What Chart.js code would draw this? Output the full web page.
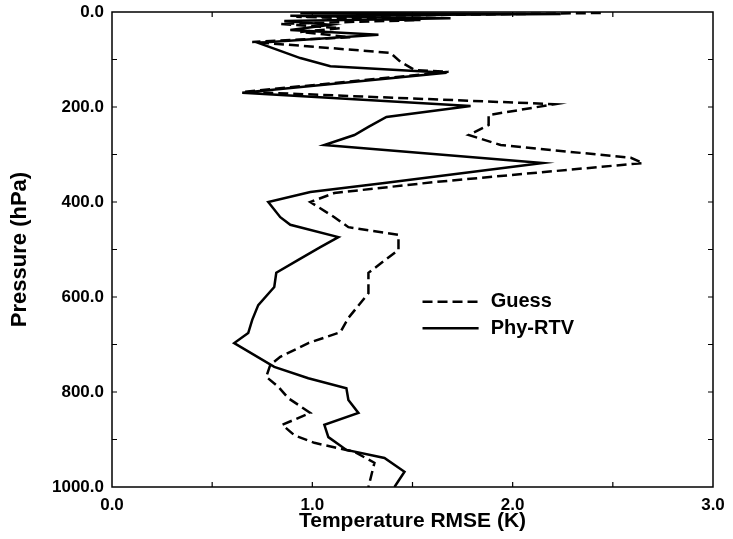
<!DOCTYPE html>
<html>
<head>
<meta charset="utf-8">
<title>Temperature RMSE profile</title>
<script src="https://cdn.jsdelivr.net/npm/chart.js@4.4.1/dist/chart.umd.min.js"></script>
<style>
    html, body { margin: 0; padding: 0; background: #fff; }
    #wrap { width: 733px; height: 539px; }
</style>
</head>
<body>
<div id="wrap"><canvas id="graphique" width="733" height="539"></canvas></div>
<script>
// Phy-RTV (solid) : pression (hPa) et RMSE (K), du haut vers le bas
const phyP = [2, 4, 8, 13, 19, 27, 38, 48, 65, 97, 114, 128, 170, 198, 221, 242, 259, 280, 318,
    360, 379, 400, 432, 448, 474, 495, 522, 549, 579, 617, 648, 676, 697, 747, 771, 792, 817,
    844, 869, 895, 922, 939, 968, 1000];
const phyRmse = [0.94, 2.24, 0.89, 1.69, 0.86, 1.09, 0.89, 1.33, 0.73, 0.94, 1.09, 1.67, 0.65,
    1.79, 1.37, 1.28, 1.21, 1.06, 2.15, 1.36, 0.99, 0.78, 0.84, 0.89, 1.13, 1.04, 0.93, 0.82,
    0.81, 0.73, 0.70, 0.68, 0.61, 0.81, 0.98, 1.17, 1.18, 1.23, 1.06, 1.08, 1.17, 1.36, 1.46, 1.41];

// Guess (dashed)
const guessP = [2, 10, 17, 25, 34, 42, 53, 63, 76, 86, 105, 122, 126, 168, 194, 217, 238, 259,
    280, 307, 318, 326, 358, 381, 400, 432, 453, 469, 501, 549, 592, 644, 674, 697, 726, 743,
    768, 789, 813, 844, 869, 891, 907, 926, 949, 1000];
const guessRmse = [2.44, 0.92, 1.54, 0.84, 1.14, 0.94, 1.19, 0.70, 1.09, 1.39, 1.44, 1.51, 1.68,
    0.66, 2.21, 1.88, 1.88, 1.78, 1.94, 2.59, 2.65, 2.44, 1.61, 1.11, 0.99, 1.11, 1.18, 1.43,
    1.43, 1.28, 1.28, 1.18, 1.14, 0.98, 0.84, 0.79, 0.77, 0.83, 0.88, 0.99, 0.85, 0.91, 1.01,
    1.21, 1.31, 1.28];

const xTicks = [0, 1, 2, 3];
const yTicks = [0, 200, 400, 600, 800, 1000];

const police = 'Liberation Sans, Arial, Helvetica, sans-serif';

function points(pres, vals) {
    return pres.map((p, i) => ({ x: vals[i], y: p }));
}

// cadre + petites graduations vers l'intérieur + légende dans le graphique
const cadre = {
    id: 'cadre',
    afterDraw(chart) {
        const { ctx, chartArea: a, scales } = chart;
        const sx = scales.x, sy = scales.y;
        ctx.save();
        ctx.strokeStyle = '#000';
        ctx.lineWidth = 1.5;
        ctx.strokeRect(a.left, a.top, a.right - a.left, a.bottom - a.top);

        ctx.lineWidth = 1.2;
        ctx.beginPath();
        for (let v = 0.5; v < 3; v += 0.5) {
            const px = sx.getPixelForValue(v);
            ctx.moveTo(px, a.bottom); ctx.lineTo(px, a.bottom - 5);
            ctx.moveTo(px, a.top); ctx.lineTo(px, a.top + 5);
        }
        for (let v = 100; v < 1000; v += 100) {
            const py = sy.getPixelForValue(v);
            ctx.moveTo(a.left, py); ctx.lineTo(a.left + 5, py);
            ctx.moveTo(a.right, py); ctx.lineTo(a.right - 5, py);
        }
        ctx.stroke();

        // légende
        const lx0 = sx.getPixelForValue(1.55), lx1 = sx.getPixelForValue(1.83);
        const tx = sx.getPixelForValue(1.89);
        const ly = [sy.getPixelForValue(610), sy.getPixelForValue(666)];
        chart.data.datasets.forEach((ds, i) => {
            ctx.beginPath();
            ctx.lineWidth = ds.borderWidth;
            ctx.setLineDash(ds.borderDash || []);
            ctx.moveTo(lx0, ly[i]); ctx.lineTo(lx1, ly[i]);
            ctx.stroke();
            ctx.setLineDash([]);
            ctx.fillStyle = '#000';
            ctx.font = 'bold 20px ' + police;
            ctx.textBaseline = 'middle';
            ctx.fillText(ds.label, tx, ly[i]);
        });
        ctx.restore();
    }
};

const ctx = document.getElementById('graphique').getContext('2d');
new Chart(ctx, {
    type: 'scatter',
    data: {
        datasets: [{
            label: 'Guess',
            data: points(guessP, guessRmse),
            showLine: true,
            borderColor: '#000',
            borderWidth: 2.5,
            borderDash: [10, 5],
            pointRadius: 0,
            tension: 0,
            fill: false
        }, {
            label: 'Phy-RTV',
            data: points(phyP, phyRmse),
            showLine: true,
            borderColor: '#000',
            borderWidth: 2.5,
            pointRadius: 0,
            tension: 0,
            fill: false
        }]
    },
    options: {
        responsive: false,
        animation: false,
        layout: { padding: { top: 12, right: 20, left: 0, bottom: 0 } },
        plugins: { legend: { display: false }, tooltip: { enabled: false } },
        scales: {
            x: {
                type: 'linear',
                min: 0, max: 3,
                afterBuildTicks: s => { s.ticks = xTicks.map(v => ({ value: v })); },
                afterFit: s => { s.height = 52; },
                ticks: {
                    color: '#000',
                    padding: 8,
                    maxRotation: 0,
                    font: { family: police, size: 17, weight: 'bold' },
                    callback: v => v.toFixed(1)
                },
                grid: { display: false, drawTicks: false },
                border: { display: false },
                title: {
                    display: true,
                    text: 'Temperature RMSE (K)',
                    color: '#000',
                    padding: { top: 0, bottom: 5 },
                    font: { family: police, size: 21, weight: 'bold' }
                }
            },
            y: {
                type: 'linear',
                reverse: true,
                min: 0, max: 1000,
                afterBuildTicks: s => { s.ticks = yTicks.map(v => ({ value: v })); },
                afterFit: s => {
                    s.width = 112;
                    s.paddingTop = 0;
                    s.paddingBottom = 0;
                },
                ticks: {
                    color: '#000',
                    padding: 8,
                    font: { family: police, size: 17, weight: 'bold', lineHeight: 0.6 },
                    callback: v => v.toFixed(1)
                },
                grid: { display: false, drawTicks: false },
                border: { display: false },
                title: {
                    display: true,
                    text: 'Pressure (hPa)',
                    color: '#000',
                    padding: { top: 7, bottom: 0 },
                    font: { family: police, size: 22, weight: 'bold' }
                }
            }
        }
    },
    plugins: [cadre]
});
</script>
</body>
</html>
